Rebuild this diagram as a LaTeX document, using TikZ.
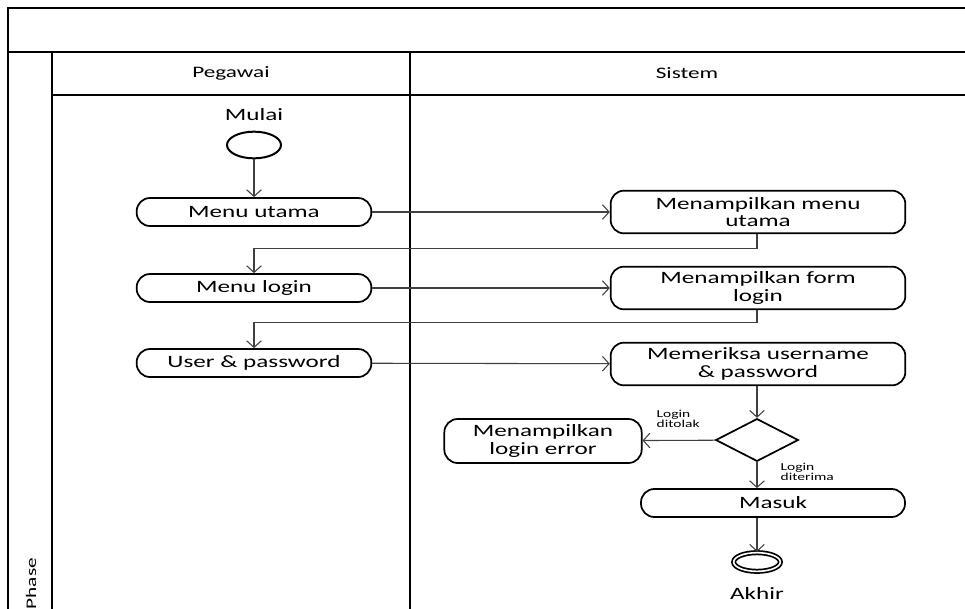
\documentclass[tikz,border=0pt]{standalone}
\usepackage{fontspec}
\setmainfont{Carlito}[FakeStretch=1.45]
\usetikzlibrary{arrows.meta,shapes.geometric}

\tikzset{
  lane/.style={line width=1.5pt},
  act/.style={draw, line width=1.3pt, rounded corners=10pt, align=center,
    inner sep=1pt, font=\fontsize{13}{13}\selectfont},
  flow/.style={draw=black!75, line width=0.8pt,
    -{Straight Barb[length=5pt,width=11pt]}},
  guard/.style={font=\fontsize{8}{7.5}\selectfont, align=left, anchor=north west}
}

\begin{document}
\begin{tikzpicture}[x=0.75pt,y=-0.75pt,font=\fontsize{12}{12}\selectfont]
\useasboundingbox (0,0) rectangle (965,608);
% swimlane frame
\draw[lane] (8,612) -- (8,8) -- (968,8);
\draw[lane] (8,52) -- (968,52);
\draw[lane] (52,52) -- (52,612);
\draw[lane] (410,52) -- (410,612);
\draw[line width=1.2pt] (52,95) -- (968,95);
\node (peg) at (231,73) {Pegawai};
\node (sis) at (687,73) {Sistem};
\node[rotate=90, anchor=west, font=\fontsize{11}{11}\selectfont] (phase) at (31,614) {Phase};

% start and end
\node (mulai) at (254,115) {\fontsize{13}{13}\selectfont Mulai};
\node[draw, ellipse, line width=1.5pt, minimum width=40.5pt, minimum height=20pt, inner sep=0pt] (start) at (254,145) {};
\node[draw, ellipse, double, double distance=1.2pt, line width=1.3pt, minimum width=35pt, minimum height=14pt, inner sep=0pt] (end) at (757,562) {};
\node (akhir) at (757,593) {\fontsize{13}{13}\selectfont Akhir};

% activities of Pegawai
\begin{scope}[every node/.style={act, minimum width=176pt, minimum height=21pt}]
  \node (mu) at (254,212) {Menu utama};
  \node (ml) at (254,288) {Menu login};
  \node (up) at (254,363) {User \& password};
\end{scope}

% activities of Sistem
\begin{scope}[every node/.style={act, minimum width=221pt, minimum height=32pt}]
  \node (tmu) at (758,212) {Menampilkan menu\\utama};
  \node (tfl) at (758,288) {Menampilkan form\\login};
  \node (cek) at (758,364) {Memeriksa username\\\& password};
\end{scope}
\node[draw, diamond, aspect=2, line width=1.3pt, minimum width=62pt, minimum height=32pt, inner sep=0pt] (dec) at (757,440) {};
\node[act, minimum width=148pt, minimum height=33pt] (err) at (543,441) {Menampilkan\\login error};
\node[act, minimum width=198pt, minimum height=21pt] (msk) at (773,503) {Masuk};
\node[guard] (tolak) at (652,405) {Login\\ditolak};
\node[guard] (terima) at (776,458) {Login\\diterima};

% flows
\path[flow] (start) edge (mu);
\path[flow] (mu) edge (tmu);
\draw[flow] (tmu.south -| dec) -- ++(0,14) -| (ml.north);
\path[flow] (ml) edge (tfl);
\draw[flow] (tfl.south -| dec) -- ++(0,12) -| (up.north);
\path[flow] (up) edge (cek);
\draw[flow] (cek.south -| dec) -- (dec);
\path[flow] (dec) edge (err);
\draw[flow] (dec) -- (dec |- msk.north);
\draw[flow] (end |- msk.south) -- (end);
\end{tikzpicture}
\end{document}
